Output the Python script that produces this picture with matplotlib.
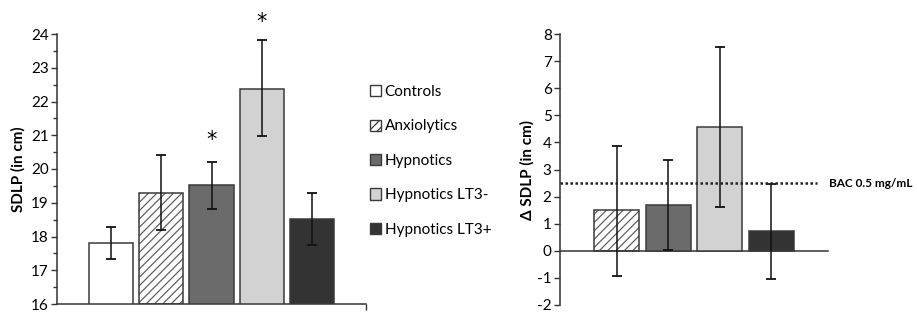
import matplotlib
matplotlib.use("Agg")
import matplotlib.pyplot as plt
from matplotlib.patches import Patch

plt.rcParams['font.family'] = ['Lato', 'DejaVu Sans']
plt.rcParams['hatch.linewidth'] = 0.9
plt.rcParams['axes.unicode_minus'] = False

# ---- data ----
groups = ["Controls", "Anxiolytics", "Hypnotics", "Hypnotics LT3-", "Hypnotics LT3+"]
sdlp = [17.82, 19.30, 19.54, 22.38, 18.53]
sdlp_hi = [18.29, 20.41, 20.21, 23.81, 19.29]
sdlp_lo = [17.33, 18.19, 18.82, 20.98, 17.75]
star_y = [None, None, 21.0, 24.5, None]

delta_groups = ["Anxiolytics", "Hypnotics", "Hypnotics LT3-", "Hypnotics LT3+"]
delta = [1.50, 1.69, 4.55, 0.72]
delta_hi = [3.87, 3.35, 7.53, 2.45]
delta_lo = [-0.93, 0.03, 1.60, -1.03]
bac_ref = 2.5
bac_label = "BAC 0.5 mg/mL"

colors = {"Controls": "#ffffff", "Anxiolytics": "#ffffff", "Hypnotics": "#6b6b6b",
          "Hypnotics LT3-": "#d2d2d2", "Hypnotics LT3+": "#333333"}
hatches = {"Anxiolytics": "////"}
edge = "#3a3a3a"

fig = plt.figure(figsize=(9.17, 3.14), dpi=100)

def draw_bars(ax, names, vals, lo, hi, width):
    xs = list(range(len(names)))
    for x, n, v in zip(xs, names, vals):
        h = hatches.get(n)
        if h:
            ax.bar(x, v - ax._base, width, bottom=ax._base, color=colors[n],
                   edgecolor="#606060", hatch=h, linewidth=0, zorder=2)
        ax.bar(x, v - ax._base, width, bottom=ax._base,
               color=colors[n] if not h else "none",
               edgecolor=edge, linewidth=1.1, zorder=3)
    yerr = [[v - l for v, l in zip(vals, lo)], [h - v for v, h in zip(vals, hi)]]
    ax.errorbar(xs, vals, yerr=yerr, fmt="none", ecolor="#111111",
                elinewidth=1.1, capsize=3.5, capthick=1.3, zorder=4)
    return xs

# ---- left chart ----
ax1 = fig.add_axes([57/917, 1-304/314, 309/917, 270/314])
ax1._base = 16
xs = draw_bars(ax1, groups, sdlp, sdlp_lo, sdlp_hi, 0.88)
ax1.set_ylim(16, 24)
ax1.set_xlim(-1.08, 5.08)
ax1.set_yticks(range(16, 25))
ax1.set_yticks([16.5 + i for i in range(8)], minor=True)
ax1.set_xticks([5.08])
ax1.set_xticklabels([])
ax1.tick_params(axis='x', direction='out', length=4, width=1, color="#333333")
ax1.tick_params(axis='y', which='major', direction='out', length=4, width=1,
                color="#333333", labelsize=11, pad=2)
ax1.tick_params(axis='y', which='minor', direction='out', length=3, width=1, color="#333333")
for s in ["top", "right"]:
    ax1.spines[s].set_visible(False)
for s in ["left", "bottom"]:
    ax1.spines[s].set_color("#333333")
    ax1.spines[s].set_linewidth(1.1)
ax1.set_ylabel("SDLP (in cm)", fontsize=11, fontweight="bold", labelpad=4)
for x, sy in zip(xs, star_y):
    if sy is not None:
        ax1.annotate("*", (x, sy), xytext=(0, -3.3), textcoords="offset points",
                     ha="center", va="center", fontsize=15, annotation_clip=False,
                     family="DejaVu Sans")

# legend
handles = [Patch(facecolor=colors[g], edgecolor=edge, hatch=hatches.get(g), linewidth=1.0)
           for g in groups]
fig.legend(handles, groups, loc="upper left", bbox_to_anchor=(370/917, 1-85/314),
           frameon=False, fontsize=11, handlelength=0.75, handleheight=0.75,
           handletextpad=0.2, labelspacing=1.34, borderaxespad=0, borderpad=0)

# ---- right chart ----
ax2 = fig.add_axes([560/917, 1-305/314, 268/917, 271/314])
ax2._base = 0
xs2 = draw_bars(ax2, delta_groups, delta, delta_lo, delta_hi, 0.874)
ax2.set_ylim(-2, 8)
ax2.set_xlim(-1.1, 4.1)
ax2.set_yticks(range(-2, 9))
ax2.set_xticks([])
ax2.tick_params(axis='y', direction='out', length=4, width=1, color="#333333",
                labelsize=11, pad=2)
for s in ["top", "right"]:
    ax2.spines[s].set_visible(False)
ax2.spines["bottom"].set_position(("data", 0))
for s in ["left", "bottom"]:
    ax2.spines[s].set_color("#333333")
    ax2.spines[s].set_linewidth(1.1)
ax2.plot([-1.1, 3.89], [bac_ref, bac_ref], linestyle=(0, (1, 1)), color="#222222",
         linewidth=1.8, zorder=5, clip_on=False)
ax2.text(4.12, bac_ref, bac_label, ha="left", va="center", fontsize=8.5,
         fontweight="bold", clip_on=False)
ax2.set_ylabel("\u0394 SDLP (in cm)", fontsize=11, fontweight="bold", labelpad=2)

fig.savefig("out.png", dpi=100)
